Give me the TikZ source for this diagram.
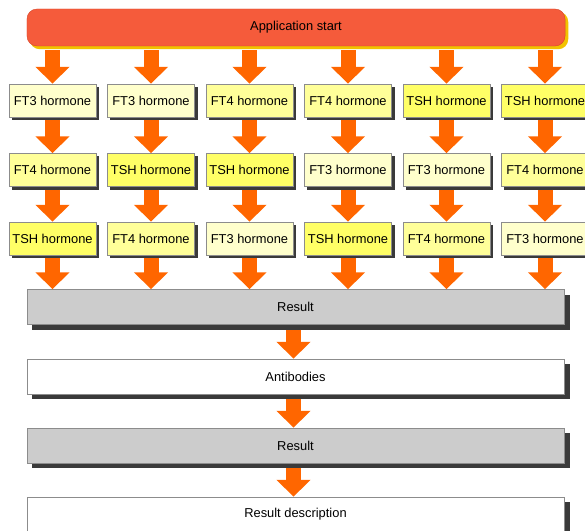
\documentclass[tikz,border=0pt]{standalone}
\usepackage{fontspec}
\setmainfont{Liberation Sans}
\usetikzlibrary{arrows.meta,calc,backgrounds}

\definecolor{barc}{HTML}{F55B3B}
\definecolor{barline}{HTML}{D9482C}
\definecolor{barshadow}{HTML}{F2C200}
\definecolor{arrowc}{HTML}{FF6600}
\definecolor{colFT3}{HTML}{FFFFCC}
\definecolor{colFT4}{HTML}{FFFF99}
\definecolor{colTSH}{HTML}{FFFF66}
\definecolor{shadowc}{HTML}{3A3A3A}

\tikzset{
  hormone/.style={draw=black!45, minimum width=2.61cm, minimum height=0.99cm, inner sep=0pt},
  stage/.style={draw=black!45, minimum width=16.11cm, minimum height=1.05cm, inner sep=0pt},
  fat/.style={draw=arrowc, line width=0.45cm, -{Triangle[width=0.99cm,length=0.51cm]}}
}

\begin{document}
\begin{tikzpicture}[x=0.03cm, y=-0.03cm, font=\fontsize{11}{13}\selectfont]
    \useasboundingbox (0,0) rectangle (585,531);

    % start
    \node[draw=barline, fill=barc, rounded corners=3mm, minimum width=16.14cm, minimum height=1.11cm]
      (start) at (296,27.5) {Application start};

    % hormones
    \foreach \i/\a/\b/\c [evaluate=\i as \x using {52.5+98.5*(\i-1)}] in
        {1/FT3/FT4/TSH, 2/FT3/TSH/FT4, 3/FT4/TSH/FT3, 4/FT4/FT3/TSH, 5/TSH/FT3/FT4, 6/TSH/FT4/FT3} {
        \node[hormone, fill=col\a] (h\i1) at (\x,100.5) {\a\ hormone};
        \node[hormone, fill=col\b] (h\i2) at (\x,170) {\b\ hormone};
        \node[hormone, fill=col\c] (h\i3) at (\x,238.5) {\c\ hormone};
    }

    % result chain, shadows first
    \foreach \y in {307,376.5,445.5,514.5}
        \fill[shadowc] (32,\y-12.5) rectangle (569.5,\y+22.5);
    \node[stage, fill=black!20] (res1) at (295.5,307) {Result};
    \node[stage, fill=white] (anti) at (295.5,376.5) {Antibodies};
    \node[stage, fill=black!20] (res2) at (295.5,445.5) {Result};
    \node[stage, fill=white] (desc) at (295.5,514.5) {Result description};

    % shadows
    \begin{scope}[on background layer]
        \fill[barshadow, rounded corners=3mm] ($(start.south west)+(3,3)$) rectangle ($(start.north east)+(3,3)$);
        \foreach \i in {1,...,6} {
            \foreach \j in {1,2,3} {
                \fill[shadowc] ($(h\i\j.south west)+(3,3)$) rectangle ($(h\i\j.north east)+(3,3)$);
            }
        }
    \end{scope}

    % arrows
    \foreach \i in {1,...,6} {
        \draw[fat] ($(start.south -| h\i1)+(0,4)$) -- (h\i1.north);
        \draw[fat] ($(h\i1.south)+(0,3)$) -- (h\i2.north);
        \draw[fat] ($(h\i2.south)+(0,3)$) -- (h\i3.north);
        \draw[fat] ($(h\i3.south)+(0,3)$) -- (h\i3 |- res1.north);
    }
    \draw[fat] ($(res1.south)+(-2,5)$) -- ($(anti.north)+(-2,0)$);
    \draw[fat] ($(anti.south)+(-2,5)$) -- ($(res2.north)+(-2,0)$);
    \draw[fat] ($(res2.south)+(-2,5)$) -- ($(desc.north)+(-2,0)$);
\end{tikzpicture}
\end{document}
